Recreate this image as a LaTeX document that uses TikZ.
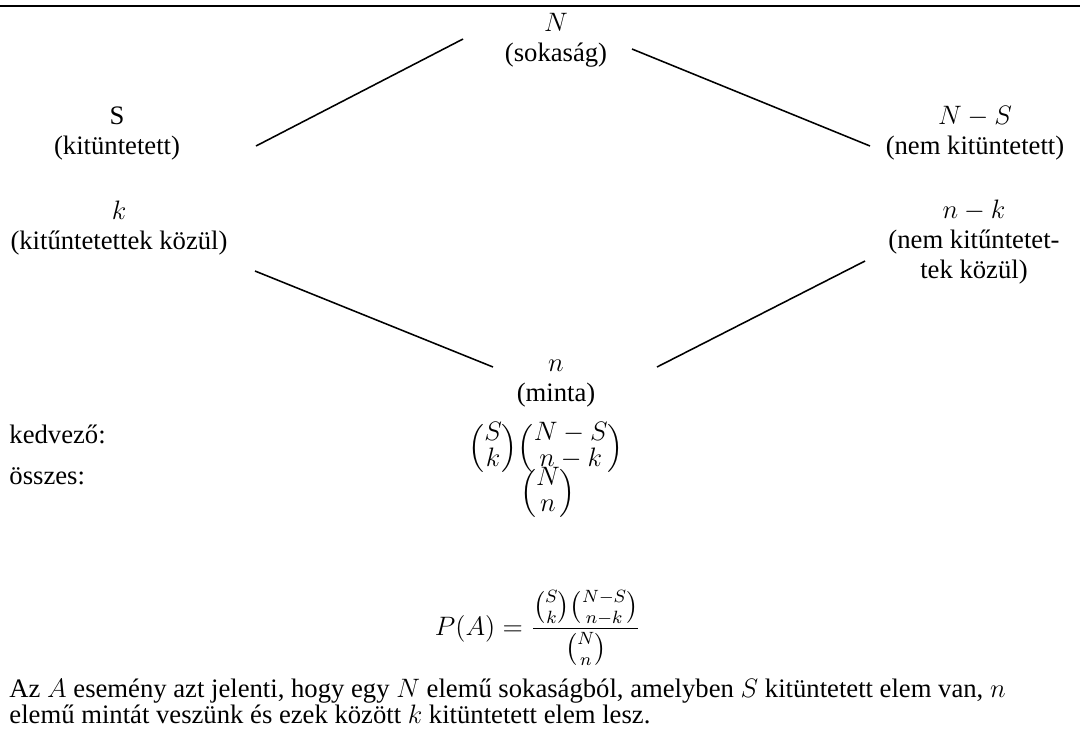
\documentclass[tikz,border=0pt]{standalone}
\usepackage{amsmath}
\usepackage{fontspec}
\setmainfont{Liberation Serif}
\usepackage{tikz}

% binomial with tight rows
\newcommand{\bnm}[2]{{\renewcommand{\arraystretch}{0.85}\left(\begin{array}{@{}c@{}}#1\\#2\end{array}\right)}}

\begin{document}
\begin{tikzpicture}[
  x=0.45pt, y=-0.45pt,
  every node/.style={font=\fontsize{12}{13.5}\selectfont},
  lbl/.style={align=center, inner sep=0pt},
  txt/.style={align=left, inner sep=0pt},
  ln/.style={line width=0.7pt, draw=black}
]
\useasboundingbox (0,0) rectangle (1080,738);

% Top rule
\coordinate (ruleL) at (0,6);
\coordinate (ruleR) at (1080,6);
\draw[line width=0.9pt] (ruleL) -- (ruleR);

% Row 1: population
\node[lbl] (sok) at (556,40) {$N$\\(sokaság)};

% Row 2: marked / not marked
\node[lbl] (kit) at (117,134) {S\\(kitüntetett)};
\node[lbl] (nemkit) at (975,133) {$N-S$\\(nem kitüntetett)};

% Row 3: from the marked / from the rest
\node[lbl] (kk) at (119,228) {$k$\\(kitűntetettek közül)};
\node[lbl] (nk) at (974,242) {$n-k$\\(nem kitűntetet-\\tek közül)};

% Row 4: sample
\node[lbl] (minta) at (556,384) {$n$\\(minta)};

% Line ends
\coordinate (kitR) at (256,146);
\coordinate (sokL) at (463,39);
\coordinate (sokR) at (632,49);
\coordinate (nemkitL) at (870,146);
\coordinate (kkR) at (255,271);
\coordinate (mintaL) at (493,367);
\coordinate (mintaR) at (657,367);
\coordinate (nkL) at (865,261);

% Counting
\node[txt, anchor=west] (kedv) at (9,434) {kedvező:};
\node[lbl] (kedvbin) at (546,448) {$\bnm{S}{k}\bnm{N-S}{n-k}$};
\node[txt, anchor=west] (osz) at (9,476) {összes:};
\node[lbl] (oszbin) at (548,493) {$\bnm{N}{n}$};

% Probability
\node[lbl] (pa) at (538,628) {$P(A)=\dfrac{\binom{S}{k}\binom{N-S}{n-k}}{\binom{N}{n}}$};

% Explanation
\node[txt, anchor=north west, font=\fontsize{12}{11.7}\selectfont] (magy) at (9,678)
  {Az $A$ esemény azt jelenti, hogy egy $N$ elemű sokaságból, amelyben $S$ kitüntetett elem van, $n$\\
   elemű mintát veszünk és ezek között $k$ kitüntetett elem lesz.};

% Connections
\draw[ln] (kitR) -- (sokL);
\draw[ln] (sokR) -- (nemkitL);
\draw[ln] (kkR) -- (mintaL);
\draw[ln] (mintaR) -- (nkL);
\end{tikzpicture}
\end{document}
